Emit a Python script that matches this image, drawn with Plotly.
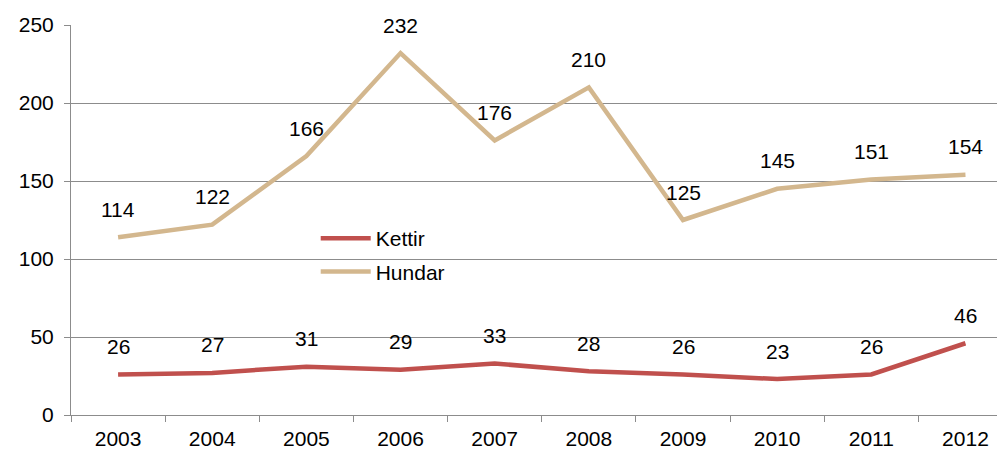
import plotly.graph_objects as go

years = ["2003", "2004", "2005", "2006", "2007", "2008", "2009", "2010", "2011", "2012"]
kettir = [26, 27, 31, 29, 33, 28, 26, 23, 26, 46]
hundar = [114, 122, 166, 232, 176, 210, 125, 145, 151, 154]

red = "#C0504D"
tan = "#D3B78E"
grid = "#8C8C8C"
font = dict(family="Liberation Sans, Arial, sans-serif", size=21, color="black")

fig = go.Figure()
fig.add_trace(go.Scatter(x=years, y=kettir, name="Kettir", mode="lines",
                         line=dict(color=red, width=4.5), legendgroup="k"))
fig.add_trace(go.Scatter(x=years, y=hundar, name="Hundar", mode="lines",
                         line=dict(color=tan, width=4.5), legendgroup="h"))

# data labels above each point (category axis: use serial index, "2003" would be read as a number)
for series in (kettir, hundar):
    for i, v in enumerate(series):
        fig.add_annotation(x=i, y=v, xref="x", yref="y", text=str(v),
                           showarrow=False, yshift=28, font=font)

# page has an 8px body margin, so the figure is a bit smaller than the window
fig.update_layout(
    width=997, height=443,
    margin=dict(l=63, r=0, t=17, b=36),
    paper_bgcolor="white", plot_bgcolor="white",
    font=font,
    showlegend=True,
    legend=dict(x=0.262, y=0.505, xanchor="left", yanchor="top",
                bgcolor="rgba(0,0,0,0)", font=font, tracegroupgap=3,
                itemwidth=50),
)
fig.update_xaxes(type="category", range=[-0.5, 9.42],
                 showline=True, linecolor=grid, linewidth=1,
                 ticks="outside", ticklen=6, tickcolor=grid, tickson="boundaries",
                 ticklabelstandoff=5,
                 showgrid=False, tickfont=font, automargin=False)
fig.update_yaxes(range=[0, 250], dtick=50, showline=True, linecolor=grid, linewidth=1,
                 showgrid=True, gridcolor=grid, gridwidth=1,
                 ticks="outside", ticklen=6, tickcolor=grid, ticklabelstandoff=6,
                 zeroline=False, tickfont=font, automargin=False)

fig.write_html("out.html")
